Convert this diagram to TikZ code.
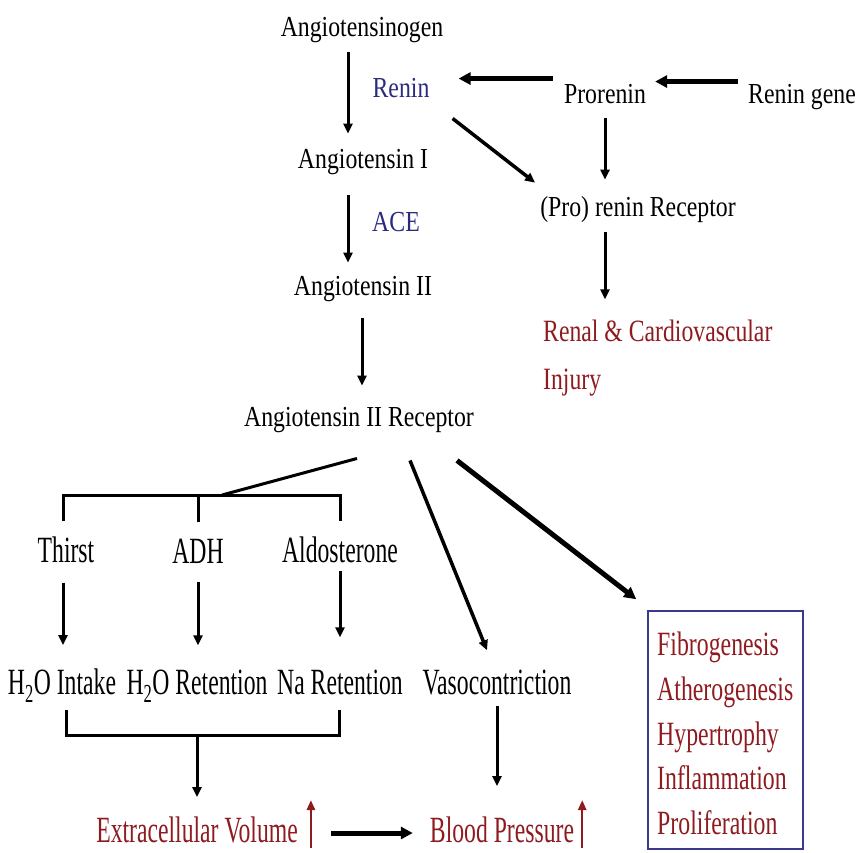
\documentclass[tikz,border=0pt]{standalone}
\usepackage{fontspec}
\setmainfont{Liberation Serif}
\newfontfamily\upfont[FakeStretch=0.82]{Liberation Serif}
\newfontfamily\renalfont[FakeStretch=0.765]{Liberation Serif}
\newfontfamily\lowfont[FakeStretch=0.64]{Liberation Serif}
\newfontfamily\boxfont[FakeStretch=0.70]{Liberation Serif}
\usetikzlibrary{arrows.meta}
\definecolor{injred}{HTML}{8E1B1F}
\definecolor{enzblue}{HTML}{2B2B7E}
\definecolor{boxblue}{HTML}{3A3A8C}
\tikzset{ up/.style = { anchor = base % upper labels
        , inner sep = 0pt
        , font = \upfont\fontsize{29}{34}\selectfont
        }
        , low/.style = { anchor = base % lower labels
        , inner sep = 0pt
        , font = \lowfont\fontsize{37}{44}\selectfont
        }
        , enz/.style = { up % enzyme
        , text = enzblue
        }
        }

\begin{document}
\begin{tikzpicture}[x=1pt, y=-1pt,
        edge_style/.style={draw=black, line width=3pt, -{Triangle[length=10pt,width=9pt]}},
        thick_edge_style/.style={draw=black, line width=5pt, -{Triangle[length=12pt,width=12pt]}},
        bracket_style/.style={draw=black, line width=3pt},
        rise_style/.style={draw=injred, line width=2.5pt, -{Triangle[length=10pt,width=8pt]}}]
        \useasboundingbox (0,0) rectangle (856,852);

        \node [up] (agen) at (362,36) {Angiotensinogen};
        \node [enz] (renin) at (401,97) {Renin};
        \node [up] (ang1) at (363,168) {Angiotensin I};
        \node [enz] (ace) at (396,231) {ACE};
        \node [up] (ang2) at (363,295) {Angiotensin II};
        \node [up] (atr) at (359,426) {Angiotensin II Receptor};
        \node [up] (prorenin) at (605,103) {Prorenin};
        \node [up] (gene) at (802,103) {Renin gene};
        \node [up] (prr) at (638,216) {(Pro) renin Receptor};
        \node [anchor=base west, inner sep=0pt, text=injred, font=\renalfont\fontsize{31}{36}\selectfont] (renal) at (543,341) {Renal \& Cardiovascular};
        \node [anchor=base west, inner sep=0pt, text=injred, font=\renalfont\fontsize{31}{36}\selectfont] (injury) at (543,389) {Injury};

        \node [low] (thirst) at (66,562) {Thirst};
        \node [low] (adh) at (198,563) {ADH};
        \node [low] (aldo) at (340,562) {Aldosterone};
        \node [low] (intake) at (62,694) {H\textsubscript{2}O Intake};
        \node [low] (waterret) at (197,694) {H\textsubscript{2}O Retention};
        \node [low] (naret) at (340,694) {Na Retention};
        \node [low] (vaso) at (497,694) {Vasocontriction};
        \node [low, text=injred] (ecv) at (197,842) {Extracellular Volume};
        \node [low, text=injred] (bp) at (502,842) {Blood Pressure};

        \node [draw=boxblue, line width=1.5pt, inner sep=0pt, minimum width=155pt, minimum height=238pt] (fbox) at (725.5,730) {};
        \node [anchor=north west, inner sep=0pt, align=left, text=injred, font=\boxfont\fontsize{34}{44.6}\selectfont] (effects) at (657,632)
            {Fibrogenesis\\Atherogenesis\\Hypertrophy\\Inflammation\\Proliferation};

        \coordinate (split) at (222,495);
        \coordinate (merge) at (197,735);

        % cascade
        \draw [edge_style, shorten <=10pt, shorten >=15pt] ([xshift=-14pt]agen.south) -- ([xshift=-14pt]agen.south |- ang1.north);
        \draw [edge_style, shorten <=21pt, shorten >=13pt] ([xshift=-15pt]ang1.south) -- ([xshift=-15pt]ang1.south |- ang2.north);
        \draw [edge_style, shorten <=17pt, shorten >=21pt] ([xshift=-1pt]ang2.south) -- ([xshift=-1pt]ang2.south |- atr.north);
        % prorenin branch
        \draw [thick_edge_style, shorten <=11pt, shorten >=29pt] ([yshift=15pt]prorenin.west) -- ([yshift=15pt]prorenin.west -| renin.east);
        \draw [thick_edge_style, shorten <=10pt, shorten >=9pt] ([yshift=15pt]gene.west) -- ([yshift=15pt]gene.west -| prorenin.east);
        \draw [edge_style, line width=3.5pt] ([xshift=23pt,yshift=-21pt]renin.south east) -- ([xshift=-5pt,yshift=13pt]prr.north west);
        \draw [edge_style, shorten <=15pt, shorten >=16pt] (prorenin.south) -- (prorenin.south |- prr.north);
        \draw [edge_style, shorten <=10pt, shorten >=20pt] (prorenin.south |- prr.south) -- (prorenin.south |- renal.north);
        % receptor effects
        \draw [bracket_style] ([xshift=-2pt,yshift=-26pt]atr.south) -- (split);
        \draw [bracket_style] ([xshift=-3pt,yshift=15pt]thirst.north) |- (split) -| ([yshift=15pt]aldo.north);
        \draw [bracket_style] ([yshift=16pt]adh.north) -- (adh.north |- split);
        \draw [edge_style, shorten <=20pt, shorten >=23pt] ([xshift=-3pt]thirst.south) -- ([xshift=-3pt]thirst.south |- intake.north);
        \draw [edge_style, shorten <=19pt, shorten >=24pt] (adh.south) -- (adh.south |- waterret.north);
        \draw [edge_style, shorten <=8pt, shorten >=32pt] (aldo.south) -- (aldo.south |- naret.north);
        \draw [edge_style, line width=3.5pt] ([xshift=51pt,yshift=-28pt]atr.south) -- ([xshift=-10pt,yshift=19pt]vaso.north);
        \draw [thick_edge_style] ([xshift=98pt,yshift=-28pt]atr.south) -- ([xshift=-11pt,yshift=11pt]fbox.north west);
        % outcomes
        \draw [bracket_style] ([xshift=4pt,yshift=-16pt]intake.base) |- (merge) -| ([xshift=-1pt,yshift=-16pt]naret.base);
        \draw [edge_style, shorten >=19pt] (merge) -- (merge |- ecv.north);
        \draw [edge_style, shorten <=11pt, shorten >=30pt] (vaso.south) -- (vaso.south |- bp.north);
        \draw [thick_edge_style] ([xshift=33pt,yshift=9pt]ecv.base east) -- ([xshift=-17pt,yshift=9pt]bp.base west);
        \draw [rise_style] ([xshift=13pt,yshift=-6pt]ecv.base east) -- ++(0,-48);
        \draw [rise_style] ([xshift=8pt,yshift=-6pt]bp.base east) -- ++(0,-48);
\end{tikzpicture}
\end{document}
